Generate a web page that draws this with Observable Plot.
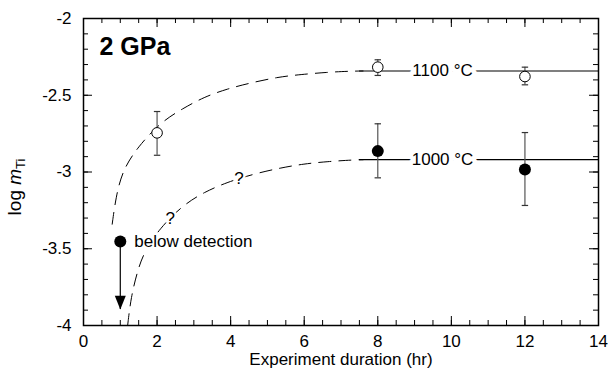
<!DOCTYPE html>
<html><head><meta charset="utf-8">
<script src="https://cdn.jsdelivr.net/npm/d3@7"></script>
<script src="https://cdn.jsdelivr.net/npm/@observablehq/plot@0.6"></script>
<style>body{margin:0;background:#fff;}</style>
</head><body><div id="chart"></div>
<script>
// ---- data ----
const durations1100 = [2, 8, 12];
const logm1100 = [-2.745, -2.317, -2.378];
const err1100Lo = [-2.891, -2.371, -2.432];
const err1100Hi = [-2.606, -2.269, -2.317];

const durations1000 = [8, 12];
const logm1000 = [-2.864, -2.984];
const err1000Lo = [-3.038, -3.218];
const err1000Hi = [-2.686, -2.743];

const belowDuration = [1];
const belowValue = [-3.453];
const belowArrowTip = [-3.896];
const belowLabel = "below detection";

const temperatureLabels = ["1100 °C", "1000 °C"];
const plateauLevels = [-2.342, -2.92];
const plateauStart = 7.5;
const plateauEnd = 14;
const labelDuration = 9.76;

const curve1100X = [0.78, 0.88, 1.06, 1.47, 2.10, 2.69, 3.27, 3.91, 4.55, 5.27, 5.90, 6.63, 7.26, 7.6];
const curve1100Y = [-3.34, -3.164, -2.990, -2.838, -2.675, -2.588, -2.512, -2.458, -2.419, -2.382, -2.365, -2.350, -2.343, -2.342];
const curve1000X = [1.2, 1.29, 1.47, 1.65, 2.06, 2.69, 3.28, 3.91, 4.64, 5.36, 5.99, 6.63, 7.35, 7.6];
const curve1000Y = [-4.0, -3.816, -3.642, -3.521, -3.370, -3.218, -3.131, -3.066, -3.012, -2.973, -2.947, -2.932, -2.921, -2.92];

const questionX = [2.36, 4.23];
const questionY = [-3.305, -3.04];

const panelTitle = "2 GPa";
const xLabel = "Experiment duration (hr)";
const xMajorTicks = [0, 2, 4, 6, 8, 10, 12, 14];
const yMajorTicks = [-2, -2.5, -3, -3.5, -4];
const xMinorTicks = d3.range(0, 14.001, 0.5);
const yMinorTicks = d3.range(-4, -1.999, 0.1).map(v => +v.toFixed(2));

// ---- build tables ----
const pts1100 = durations1100.map((x, i) => ({x, y: logm1100[i], lo: err1100Lo[i], hi: err1100Hi[i]}));
const pts1000 = durations1000.map((x, i) => ({x, y: logm1000[i], lo: err1000Lo[i], hi: err1000Hi[i]}));
const errAll = pts1100.concat(pts1000);
const curve1100 = curve1100X.map((x, i) => ({x, y: curve1100Y[i]}));
const curve1000 = curve1000X.map((x, i) => ({x, y: curve1000Y[i]}));
const plateaus = temperatureLabels.map((t, i) => ({label: t, level: plateauLevels[i]}));
const questions = questionX.map((x, i) => ({x, y: questionY[i]}));
const below = belowDuration.map((x, i) => ({x, y: belowValue[i], tip: belowArrowTip[i]}));

const W = 608, H = 369, mL = 83, mR = 10, mT = 18, mB = 44;
const fw = W - mL - mR, fh = H - mT - mB;

const capSymbol = {draw(ctx, size) { const r = Math.sqrt(size / Math.PI); ctx.moveTo(-r, 0); ctx.lineTo(r, 0); }};
const arrowHead = {draw(ctx, size) { const r = Math.sqrt(size / Math.PI); ctx.moveTo(0, 0); ctx.lineTo(-r, -2.5 * r); ctx.lineTo(r, -2.5 * r); ctx.closePath(); }};

const font = "Liberation Sans, Arial, Helvetica, sans-serif";
const fmt = d => String(d);

const svg = Plot.plot({
  width: W, height: H,
  marginLeft: mL, marginRight: mR, marginTop: mT, marginBottom: mB,
  style: {fontFamily: font, fontSize: "17px", color: "black", background: "white"},
  x: {domain: [0, 14]},
  y: {domain: [-4, -2]},
  marks: [
    Plot.axisX({ticks: xMajorTicks, tickSize: 0, tickPadding: 9, tickFormat: fmt, label: null}),
    Plot.axisY({ticks: yMajorTicks, tickSize: 0, tickPadding: 12, tickFormat: fmt, label: null}),
    // inward ticks
    Plot.ruleX(xMinorTicks, {x: d => d, insetTop: fh - 5, stroke: "black"}),
    Plot.ruleX(xMinorTicks, {x: d => d, insetBottom: fh - 5, stroke: "black"}),
    Plot.ruleX(xMajorTicks, {x: d => d, insetTop: fh - 9, stroke: "black"}),
    Plot.ruleX(xMajorTicks, {x: d => d, insetBottom: fh - 9, stroke: "black"}),
    Plot.ruleY(yMinorTicks, {y: d => d, insetRight: fw - 5, stroke: "black"}),
    Plot.ruleY(yMinorTicks, {y: d => d, insetLeft: fw - 5, stroke: "black"}),
    Plot.ruleY(yMajorTicks, {y: d => d, insetRight: fw - 9, stroke: "black"}),
    Plot.ruleY(yMajorTicks, {y: d => d, insetLeft: fw - 9, stroke: "black"}),
    // dashed curves
    Plot.line(curve1100, {x: "x", y: "y", curve: "basis", stroke: "black", strokeWidth: 1, strokeDasharray: "12,8"}),
    Plot.line(curve1000, {x: "x", y: "y", curve: "basis", stroke: "black", strokeWidth: 1, strokeDasharray: "12,8"}),
    // plateau lines and labels
    Plot.ruleY(plateaus, {y: "level", x1: plateauStart, x2: plateauEnd, stroke: "black", strokeWidth: 1.2}),
    Plot.text(plateaus, {x: labelDuration, y: "level", text: "label", fontSize: 17, lineAnchor: "middle", fill: "black", stroke: "white", strokeWidth: 9, paintOrder: "stroke"}),
    Plot.text(questions, {x: "x", y: "y", text: () => "?", fontSize: 17, lineAnchor: "middle", fill: "black", stroke: "white", strokeWidth: 5, paintOrder: "stroke"}),
    // error bars
    Plot.ruleX(errAll, {x: "x", y1: "lo", y2: "hi", stroke: "#555", strokeWidth: 1.2}),
    Plot.dot(errAll, {x: "x", y: "lo", symbol: capSymbol, r: 3.2, stroke: "#333", strokeWidth: 1.2}),
    Plot.dot(errAll, {x: "x", y: "hi", symbol: capSymbol, r: 3.2, stroke: "#333", strokeWidth: 1.2}),
    // points
    Plot.dot(pts1100, {x: "x", y: "y", r: 5.3, fill: "white", stroke: "black", strokeWidth: 1}),
    Plot.dot(pts1000, {x: "x", y: "y", r: 6, fill: "black", stroke: "none"}),
    // below detection
    Plot.ruleX(below, {x: "x", y1: "y", y2: "tip", stroke: "black", strokeWidth: 1.2}),
    Plot.dot(below, {x: "x", y: "tip", symbol: arrowHead, r: 5.5, fill: "black", stroke: "none"}),
    Plot.dot(below, {x: "x", y: "y", r: 6, fill: "black", stroke: "none"}),
    Plot.text(below, {x: "x", y: "y", text: () => belowLabel, textAnchor: "start", lineAnchor: "middle", dx: 14, fontSize: 17, fill: "black", stroke: "white", strokeWidth: 5, paintOrder: "stroke"}),
    // titles
    Plot.text([panelTitle], {frameAnchor: "top-left", text: d => d, dx: 16, dy: 28, textAnchor: "start", lineAnchor: "middle", fontSize: 25, fontWeight: "bold", fill: "black"}),
    Plot.text([xLabel], {frameAnchor: "bottom", text: d => d, dy: 34, lineAnchor: "middle", fontSize: 17, fill: "black"}),
    Plot.frame({stroke: "black", strokeWidth: 1.5})
  ]
});

// y label with italic m and subscript Ti
const yl = d3.select(svg).append("text")
  .attr("transform", "translate(21,187) rotate(-90)")
  .attr("text-anchor", "middle")
  .attr("font-size", 19)
  .attr("font-family", font)
  .attr("fill", "black");
yl.append("tspan").text("log ");
yl.append("tspan").attr("font-style", "italic").text("m");
yl.append("tspan").attr("font-size", 13).attr("dy", 4).text("Ti");

document.getElementById("chart").appendChild(svg);
</script>
</body></html>
